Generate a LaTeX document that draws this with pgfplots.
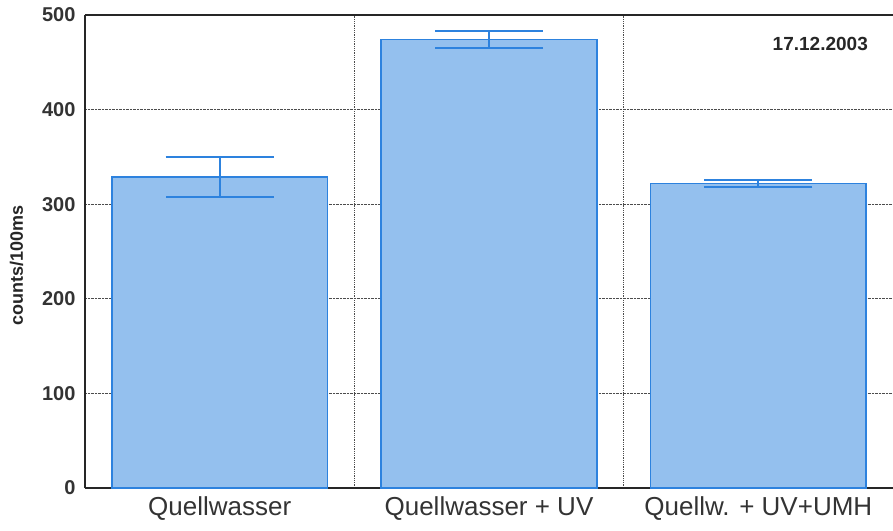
\documentclass[border=0pt]{standalone}
\usepackage{fontspec}
\setmainfont{Liberation Sans}
\usepackage{pgfplots}
\pgfplotsset{compat=1.18}
\definecolor{barfill}{RGB}{148,192,238}
\definecolor{barline}{RGB}{45,130,222}
\begin{document}
\begin{tikzpicture}
\path[use as bounding box] (-85pt,-42pt) rectangle (808pt,488pt);
\begin{axis}[
  scale only axis,
  width=808pt, height=473pt,
  xmin=-0.5, xmax=2.5,
  ymin=0, ymax=500,
  axis x line=box, axis y line=left,
  axis line style={-, line width=1.2pt, black!85},
  xtick={0,1,2},
  xticklabels={Quellwasser, Quellwasser + UV, Quellw. + UV+UMH},
  xticklabel style={font=\fontsize{26}{28}\selectfont, text=black!80, yshift=-5pt},
  minor xtick={0.5,1.5},
  xminorgrids,
  ytick={0,100,200,300,400,500},
  ymajorgrids,
  major tick length=0pt, minor tick length=0pt,
  yticklabel style={font=\fontsize{20}{22}\selectfont\bfseries, text=black!80, xshift=-6pt},
  /pgf/number format/assume math mode=true,
  grid style={densely dotted, line width=0.8pt, black!70},
  minor grid style={densely dotted, line width=0.8pt, black!70},
  ylabel={counts/100ms},
  ylabel style={font=\fontsize{18}{20}\selectfont\bfseries, text=black!85},
  every axis y label/.append style={at={(ticklabel cs:0.5)}, xshift=-14pt, yshift=12pt},
  bar width=0.8,
]
\addplot[ybar, fill=barfill, draw=barline, line width=1.6pt,
  error bars/.cd, y dir=both, y explicit,
  error bar style={line width=1.8pt, barline},
  error mark options={rotate=90, barline, line width=1.8pt, mark size=54pt}]
  coordinates {
    (0,329) +- (0,21)
    (1,474) +- (0,9)
    (2,322) +- (0,4)
  };
\node[font=\fontsize{19}{21}\selectfont\bfseries, text=black!85] at (rel axis cs:0.91,0.939) {17.12.2003};
\end{axis}
\end{tikzpicture}
\end{document}
